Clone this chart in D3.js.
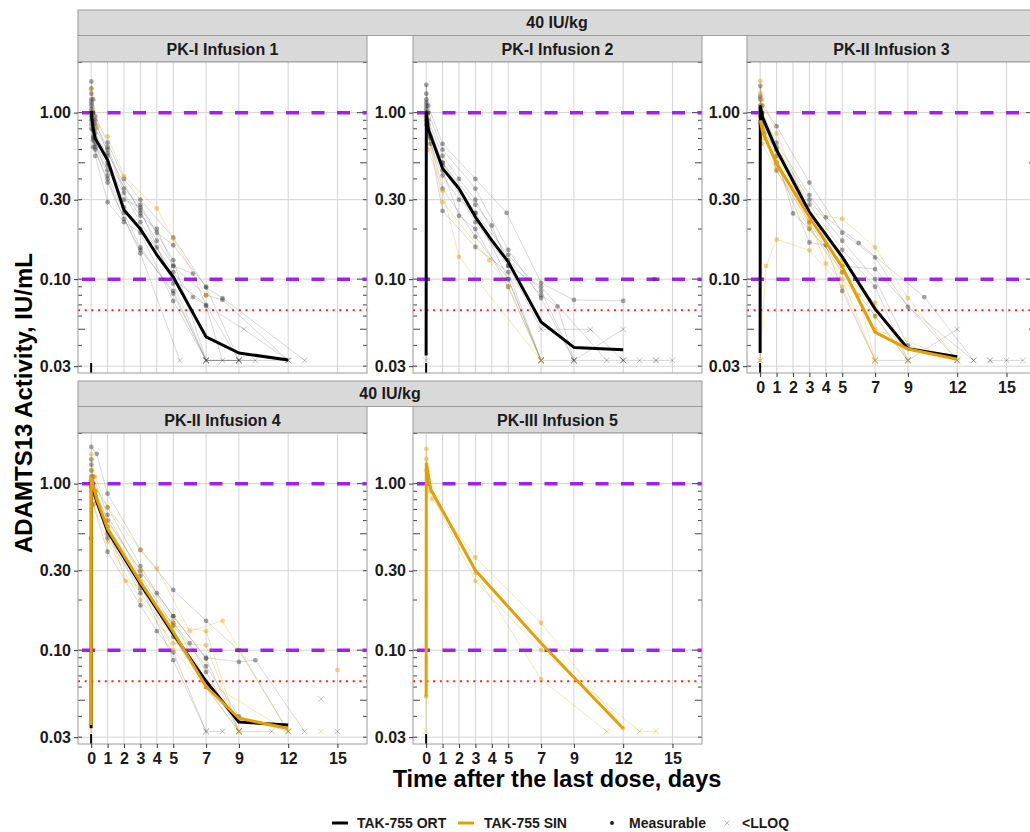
<!DOCTYPE html>
<html><head><meta charset="utf-8">
<script src="https://cdn.jsdelivr.net/npm/d3@7"></script>
<style>body{margin:0;background:#fff} svg{display:block;font-family:"Liberation Sans",Arial,sans-serif}</style>
</head><body><svg id="c" width="1030" height="832"></svg>
<script>
// ---------- labels / ticks ----------
const panelTitles = ["PK-I Infusion 1","PK-I Infusion 2","PK-II Infusion 3","PK-II Infusion 4","PK-III Infusion 5"];
const doseLabel = "40 IU/kg";
const xTicks = [0,1,2,3,4,5,7,9,12,15];
const yTicks = [0.03,0.10,0.30,1.00];
const refDashed = [0.1,1.0];
const lloq = 0.065;
const logMinor = [0.03,0.04,0.05,0.06,0.07,0.08,0.09,0.1,0.2,0.3,0.4,0.5,0.6,0.7,0.8,0.9,1,2];
const legendItems = ["TAK-755 ORT","TAK-755 SIN","Measurable","<LLOQ"];
const xTitle = "Time after the last dose, days";
const yTitle = "ADAMTS13 Activity, IU/mL";

// ---------- data: [day, IU/mL, (1 = <LLOQ)] ----------
const p1ORT = [
 [[0.01,1.54],[0.125,1.2],[0.25,0.95],[1,0.66],[2,0.4],[3,0.3],[5,0.178],[7,0.089],[8,0.077],[13,0.0325,1]],
 [[0.01,1.05],[0.125,0.85],[0.25,0.75],[1,0.55],[2,0.27],[3,0.2],[4,0.155],[5,0.1],[7,0.07],[9,0.0325,1]],
 [[0.01,1.1],[0.125,0.9],[0.25,0.7],[1,0.5],[3,0.26],[5,0.094],[7,0.0325,1],[9,0.0325,1]],
 [[0.01,0.95],[0.125,0.7],[0.25,0.62],[1,0.45],[2,0.3],[3,0.27],[5,0.13],[7,0.0325,1],[10,0.0325,1]],
 [[0.01,1.2],[0.125,0.8],[0.25,0.65],[1,0.42],[2,0.25],[3,0.155],[5,0.082],[7,0.0325,1]],
 [[0.01,0.9],[0.125,0.72],[0.25,0.6],[1,0.38],[3,0.143],[5.4,0.0325,1]],
 [[0.01,1.0],[0.125,0.78],[0.25,0.55],[1,0.29],[2,0.22],[3,0.19],[5,0.074],[7,0.0325,1],[9,0.0325,1]],
 [[0.01,1.15],[0.25,0.8],[1,0.6],[2,0.33],[3,0.24],[4,0.2],[5,0.12],[6.2,0.108],[7,0.069],[8,0.0325,1]],
 [[0.01,0.85],[0.125,0.68],[1,0.48],[3,0.22],[5,0.11],[6.2,0.078],[9.3,0.05,1],[12,0.0325,1]],
 [[0.01,1.3],[0.125,1.0],[0.25,0.85],[1,0.62],[2,0.35],[3,0.28],[4,0.19],[5,0.16],[7,0.09],[9,0.0325,1]],
 [[0.01,0.8],[0.125,0.62],[1,0.4],[2,0.23],[3,0.15],[5,0.085],[7,0.0325,1],[12,0.0325,1]],
 [[0.01,1.4],[0.25,0.9],[1,0.57],[3,0.25],[4,0.17],[5,0.12],[7,0.08],[8,0.075],[12,0.0325,1]]
];
const p1SIN = [
 [[0.01,1.37],[0.375,0.82],[1,0.72],[2,0.415],[4,0.266],[5,0.175],[7,0.08]]
];
const p1MeanORT = [[0.01,1.02],[0.04,0.92],[0.125,0.8],[0.25,0.7],[1,0.52],[2,0.26],[3,0.2],[4,0.14],[5,0.103],[7,0.045],[9,0.036],[12,0.0327]];
const p1MeanSIN = [];

const p2ORT = [
 [[0,0.0325,1],[0.01,1.47],[0.125,1.1],[1,0.65],[3,0.4],[4.9,0.25],[7,0.095],[9,0.075],[12,0.074]],
 [[0.01,1.2],[0.125,0.9],[1,0.55],[2,0.4],[3,0.3],[5,0.13],[7,0.08],[8,0.0685],[9,0.0325,1]],
 [[0.01,1.0],[0.125,0.85],[1,0.5],[3,0.28],[4,0.21],[5,0.12],[7,0.05,1],[10,0.05,1],[12,0.0325,1]],
 [[0.01,0.95],[0.25,0.7],[1,0.45],[2,0.24],[3,0.2],[5,0.09],[7,0.0325,1],[9,0.0325,1]],
 [[0.01,1.1],[0.125,0.75],[1,0.257],[3,0.156],[5,0.11],[7,0.0325,1]],
 [[0.01,0.9],[0.25,0.65],[1,0.42],[2,0.3],[3,0.25],[5,0.14],[7,0.085],[9,0.0325,1],[12,0.05,1]],
 [[0.01,1.3],[0.125,1.0],[1,0.6],[3,0.35],[5,0.15],[7,0.077],[9,0.0325,1],[12,0.0325,1]],
 [[0.01,1.05],[0.25,0.72],[1,0.48],[3,0.22],[5,0.12],[7,0.09],[11,0.0325,1]],
 [[0.01,1.15],[0.125,0.8],[1,0.5],[3,0.25],[5,0.1],[7,0.0325,1]],
 [[0.01,0.85],[1,0.35],[3,0.18],[5,0.1],[7,0.0325,1]],
 [[12,0.0325,1],[13,0.0325,1],[14,0.0325,1],[15,0.0325,1]],
 [[14,0.0325,1]],
 [[13.9,0.1]]
];
const p2SIN = [
 [[0.01,0.9],[0.125,0.6],[1,0.34],[2,0.136],[7,0.0325,1]],
 [[0.01,0.95],[1,0.29],[3.85,0.13],[5,0.09],[7,0.0325,1]]
];
const p2MeanORT = [[0,0.0348],[0.01,1.0],[0.125,0.8],[1,0.463],[2,0.35],[3,0.236],[4,0.171],[5,0.127],[7,0.0553],[9,0.0389],[12,0.0377]];
const p2MeanSIN = [];

const p3ORT = [
 [[0,0.0325,1],[0.01,1.45],[0.125,1.1],[1,0.83],[3,0.38],[5,0.19],[7,0.135],[9,0.068],[13,0.0325,1]],
 [[0.01,1.2],[0.125,1.0],[1,0.66],[3,0.32],[4,0.235],[6,0.165],[10,0.078],[13,0.0325,1]],
 [[0.01,1.05],[0.25,0.85],[1,0.55],[2,0.248],[3,0.2],[5,0.12],[7,0.115],[12,0.0325,1]],
 [[0.01,0.95],[0.125,0.8],[1,0.5],[3,0.166],[4,0.16],[5,0.085],[7,0.0325,1],[9,0.0325,1],[12,0.05,1]],
 [[0.01,1.1],[0.25,0.75],[1,0.6],[3,0.28],[5,0.15],[7,0.09],[9,0.0325,1]],
 [[0.01,0.88],[1,0.45],[3,0.22],[5,0.11],[7,0.06],[9,0.0325,1]],
 [[0.01,1.25],[0.125,0.9],[1,0.62],[3,0.3],[5,0.17],[7,0.1],[9,0.04],[12,0.0325,1]],
 [[14,0.0325,1]],
 [[14,0.0325,1],[15,0.0325,1],[16,0.0325,1]]
];
const p3SIN = [
 [[0,0.0325,1],[0.36,0.12],[1,0.173],[3,0.149],[5,0.09],[7,0.0325,1]],
 [[0.01,1.55],[0.125,1.2],[1,0.75],[3,0.25],[5,0.23],[7,0.155],[9,0.077],[12,0.0325,1]],
 [[0.01,1.0],[0.25,0.7],[1,0.5],[3,0.22],[4,0.124],[6,0.08],[7,0.0325,1]],
 [[0.01,0.85],[0.125,0.65],[1,0.45],[3,0.2],[5,0.11],[7,0.072],[9,0.0325,1]],
 [[0.01,1.1],[0.25,0.8],[1,0.55],[3,0.24],[5,0.13],[7,0.06],[9,0.0325,1]],
 [[0.01,0.95],[1,0.48],[3,0.21],[5,0.1],[7,0.0325,1]],
 [[0.01,1.3],[0.125,0.9],[1,0.6],[3,0.23],[5,0.12],[7,0.05],[12,0.0325,1]]
];
const p3MeanORT = [[0,0.036],[0.01,1.09],[0.16,0.93],[1,0.597],[3,0.253],[5,0.136],[7,0.0663],[9,0.0382],[12,0.0342]];
const p3MeanSIN = [[0.01,0.9],[0.16,0.76],[1,0.496],[3,0.236],[5,0.118],[7,0.048],[9,0.038],[12,0.033]];

const p4ORT = [
 [[0.01,1.66],[0.34,1.51],[1,0.87],[3,0.4],[5,0.23],[7,0.15],[9,0.1],[12,0.0325,1]],
 [[0.01,1.3],[0.125,1.0],[1,0.72],[3,0.32],[4,0.22],[5,0.16],[7,0.089],[9,0.0325,1]],
 [[0.01,1.1],[0.25,0.85],[1,0.47],[3,0.235],[5,0.145],[6,0.11],[7,0.074],[9,0.0325,1]],
 [[0.01,0.95],[0.125,0.75],[1,0.39],[3,0.186],[4,0.13],[5,0.097],[7,0.0325,1]],
 [[0.01,1.2],[0.25,0.9],[1,0.6],[3,0.3],[5,0.16],[7,0.09],[9,0.085],[10,0.087],[13,0.0325,1]],
 [[0.01,1.0],[1,0.55],[3,0.25],[5,0.087],[7,0.0325,1],[8,0.0325,1]],
 [[0,0.47],[0.01,1.05],[1,0.5],[3,0.22],[5,0.12],[7,0.06],[9,0.0325,1],[11,0.0325,1]],
 [[0.01,1.4],[0.125,1.1],[1,0.65],[3,0.28],[5,0.14],[7,0.08],[9,0.04],[12,0.0325,1]],
 [[14,0.051,1]],
 [[15,0.0325,1]]
];
const p4SIN = [
 [[0,0.0325,1],[0.01,1.5],[0.25,1.1],[1,0.72],[3,0.4],[4,0.31],[6,0.13],[8,0.15],[12,0.0325,1]],
 [[0.01,1.1],[0.25,0.85],[1,0.55],[2.1,0.26],[3,0.24],[5,0.14],[7,0.13],[9,0.0325,1]],
 [[0.01,0.9],[0.125,0.75],[1,0.45],[3,0.2],[5,0.11],[7,0.107],[9,0.0325,1]],
 [[0.01,1.05],[1,0.5],[3,0.26],[5,0.1],[7,0.06],[9,0.0325,1]],
 [[0.01,1.2],[0.25,0.9],[1,0.6],[3,0.3],[5,0.15],[7,0.065],[12,0.0325,1]],
 [[14,0.0325,1]],
 [[15,0.076]]
];
const p4MeanORT = [[0,0.034],[0.01,1.02],[0.34,0.78],[1,0.52],[3,0.25],[5,0.125],[7,0.065],[9,0.037],[12,0.0355]];
const p4MeanSIN = [[0,0.0355],[0.01,1.07],[0.34,0.81],[1,0.537],[3,0.257],[5,0.129],[7,0.0605],[9,0.039],[12,0.0338]];

const p5ORT = [];
const p5SIN = [
 [[0,0.0525],[0.01,1.62],[0.36,0.81],[3,0.36],[7,0.146],[12,0.034]],
 [[0,0.0325,1],[0.01,1.41],[0.25,0.95],[3,0.29],[7,0.067],[11,0.0325,1]],
 [[0.01,1.2],[0.25,0.9],[3,0.26],[7,0.1],[13,0.0325,1],[14,0.0325,1]]
];
const p5MeanORT = [];
const p5MeanSIN = [[0,0.0525],[0.01,1.32],[0.27,0.93],[3,0.302],[7,0.11],[12,0.0338]];

// ---------- layout ----------
const svg = d3.select("#c");
const W = 289, H = 311;
const colX = [78, 413, 747];
const rowY = [62, 433];
const ORT = "#000000", SIN = "#E69F00";
const panels = [
 {row:0,col:0,ort:p1ORT,sin:p1SIN,mo:p1MeanORT,ms:p1MeanSIN,xlab:false},
 {row:0,col:1,ort:p2ORT,sin:p2SIN,mo:p2MeanORT,ms:p2MeanSIN,xlab:false},
 {row:0,col:2,ort:p3ORT,sin:p3SIN,mo:p3MeanORT,ms:p3MeanSIN,xlab:true},
 {row:1,col:0,ort:p4ORT,sin:p4SIN,mo:p4MeanORT,ms:p4MeanSIN,xlab:true},
 {row:1,col:1,ort:p5ORT,sin:p5SIN,mo:p5MeanORT,ms:p5MeanSIN,xlab:true}
];
const x = d3.scaleLinear().domain([-0.8,16.8]).range([0,W]);
const y = d3.scaleLog().domain([0.0273,2.015]).range([H,0]);
const line = d3.line().x(d=>x(d[0])).y(d=>y(d[1]));

// top strips ("40 IU/kg")
const topStrips = [{row:0, c0:0, c1:2},{row:1, c0:0, c1:1}];
topStrips.forEach(s=>{
  const x0 = colX[s.c0], x1 = colX[s.c1]+W, yb = rowY[s.row]-26.5;
  svg.append("rect").attr("x",x0).attr("y",yb-25.5).attr("width",x1-x0).attr("height",25.5)
    .attr("fill","#d9d9d9").attr("stroke","#9a9a9a").attr("stroke-width",1);
  svg.append("text").attr("x",(x0+x1)/2).attr("y",yb-7.5).attr("text-anchor","middle")
    .attr("font-size",16).attr("font-weight","bold").attr("fill","#1a1a1a").text(doseLabel);
});

panels.forEach((p,i)=>{
  const gx = colX[p.col], gy = rowY[p.row];
  // panel strip
  svg.append("rect").attr("x",gx).attr("y",gy-26.5).attr("width",W).attr("height",26.5)
    .attr("fill","#d9d9d9").attr("stroke","#9a9a9a").attr("stroke-width",1);
  svg.append("text").attr("x",gx+W/2).attr("y",gy-7.5).attr("text-anchor","middle")
    .attr("font-size",16).attr("font-weight","bold").attr("fill","#1a1a1a").text(panelTitles[i]);

  const g = svg.append("g").attr("transform",`translate(${gx},${gy})`);
  const cid = "clip"+i;
  g.append("clipPath").attr("id",cid).append("rect").attr("width",W).attr("height",H);
  g.append("rect").attr("width",W).attr("height",H).attr("fill","#fff");
  const pg = g.append("g").attr("clip-path",`url(#${cid})`);

  // grid
  pg.selectAll(".vg").data(xTicks).join("line").attr("x1",d=>x(d)).attr("x2",d=>x(d))
    .attr("y1",0).attr("y2",H).attr("stroke","#d3d3d3").attr("stroke-width",1);
  pg.selectAll(".hg").data(yTicks).join("line").attr("y1",d=>y(d)).attr("y2",d=>y(d))
    .attr("x1",0).attr("x2",W).attr("stroke","#d3d3d3").attr("stroke-width",1);

  // log ticks (left & right, inside)
  const tl = v => (Math.abs(Math.log10(v)-Math.round(Math.log10(v)))<1e-9) ? 10 : (String(v).includes("5") ? 7 : 4);
  pg.selectAll(".ltl").data(logMinor).join("line").attr("x1",0).attr("x2",d=>tl(d))
    .attr("y1",d=>y(d)).attr("y2",d=>y(d)).attr("stroke","#444").attr("stroke-width",1);
  pg.selectAll(".ltr").data(logMinor).join("line").attr("x1",W).attr("x2",d=>W-tl(d))
    .attr("y1",d=>y(d)).attr("y2",d=>y(d)).attr("stroke","#444").attr("stroke-width",1);

  // reference lines
  pg.selectAll(".ref").data(refDashed).join("line").attr("x1",0).attr("x2",W)
    .attr("y1",d=>y(d)).attr("y2",d=>y(d)).attr("stroke","#a020f0").attr("stroke-width",3.5)
    .attr("stroke-dasharray","13,12.5").attr("stroke-dashoffset",-4);
  pg.append("line").attr("x1",0).attr("x2",W).attr("y1",y(lloq)).attr("y2",y(lloq))
    .attr("stroke","#ff2020").attr("stroke-width",2).attr("stroke-dasharray","2,4.7");

  // individual lines
  const drawInd = (subs,col,lop,pop,xop)=>{
    subs.forEach(s=>{
      if (s.length>1) pg.append("path").attr("d",line(s)).attr("fill","none")
        .attr("stroke",col).attr("stroke-opacity",lop).attr("stroke-width",0.8);
    });
    subs.forEach(s=>{
      s.forEach(d=>{
        const px = x(d[0]), py = y(d[1]);
        if (d[2]) {
          pg.append("path").attr("d",`M${px-2.8},${py-2.8}L${px+2.8},${py+2.8}M${px-2.8},${py+2.8}L${px+2.8},${py-2.8}`)
            .attr("stroke",col).attr("stroke-opacity",xop).attr("stroke-width",1).attr("fill","none");
        } else {
          pg.append("circle").attr("cx",px).attr("cy",py).attr("r",2.4)
            .attr("fill",col).attr("fill-opacity",pop);
        }
      });
    });
  };
  drawInd(p.ort,"#3a3a3a",0.25,0.45,0.3);
  drawInd(p.sin,SIN,0.35,0.45,0.4);

  // dose rug at day 0
  pg.append("line").attr("x1",x(0)).attr("x2",x(0)).attr("y1",H-10).attr("y2",H)
    .attr("stroke","#000").attr("stroke-width",2);

  // mean lines
  if (p.mo.length) pg.append("path").attr("d",line(p.mo)).attr("fill","none")
    .attr("stroke",ORT).attr("stroke-width",3).attr("stroke-linejoin","round");
  if (p.ms.length) pg.append("path").attr("d",line(p.ms)).attr("fill","none")
    .attr("stroke",SIN).attr("stroke-width",3).attr("stroke-linejoin","round");

  // border
  g.append("rect").attr("width",W).attr("height",H).attr("fill","none")
    .attr("stroke","#9a9a9a").attr("stroke-width",1);

  // y axis
  const ya = g.append("g").call(d3.axisLeft(y).tickValues(yTicks).tickFormat(d3.format(".2f")).tickSize(4).tickPadding(3));
  ya.select(".domain").remove();
  ya.selectAll("line").attr("stroke","#333");
  ya.selectAll("text").attr("font-size",16).attr("font-weight","bold").attr("fill","#1a1a1a")
    .attr("font-family","Liberation Sans, Arial, sans-serif");
  // x axis
  if (p.xlab) {
    const xa = g.append("g").attr("transform",`translate(0,${H})`)
      .call(d3.axisBottom(x).tickValues(xTicks).tickSize(4).tickPadding(5));
    xa.select(".domain").remove();
    xa.selectAll("line").attr("stroke","#333");
    xa.selectAll("text").attr("font-size",16).attr("font-weight","bold").attr("fill","#1a1a1a")
      .attr("font-family","Liberation Sans, Arial, sans-serif");
  }
});

// axis titles
svg.append("text").attr("transform","translate(32,403) rotate(-90)").attr("text-anchor","middle")
  .attr("font-size",24).attr("font-weight","bold").attr("fill","#000").text(yTitle);
svg.append("text").attr("x",557).attr("y",787).attr("text-anchor","middle")
  .attr("font-size",23.5).attr("font-weight","bold").attr("fill","#000").text(xTitle);

// legend
const ly = 823;
const lg = svg.append("g").attr("font-size",14).attr("font-weight","bold").attr("fill","#1a1a1a");
lg.append("line").attr("x1",332).attr("x2",348).attr("y1",ly).attr("y2",ly).attr("stroke",ORT).attr("stroke-width",3);
lg.append("text").attr("x",357).attr("y",ly+5).text(legendItems[0]);
lg.append("line").attr("x1",458).attr("x2",474).attr("y1",ly).attr("y2",ly).attr("stroke",SIN).attr("stroke-width",3);
lg.append("text").attr("x",484).attr("y",ly+5).text(legendItems[1]);
lg.append("circle").attr("cx",612).attr("cy",ly).attr("r",2).attr("fill","#222");
lg.append("text").attr("x",629).attr("y",ly+5).text(legendItems[2]);
lg.append("path").attr("d",`M${724.5},${ly-2.5}L${729.5},${ly+2.5}M${724.5},${ly+2.5}L${729.5},${ly-2.5}`)
  .attr("stroke","#bbb").attr("stroke-width",1);
lg.append("text").attr("x",742).attr("y",ly+5).text(legendItems[3]);
</script></body></html>
